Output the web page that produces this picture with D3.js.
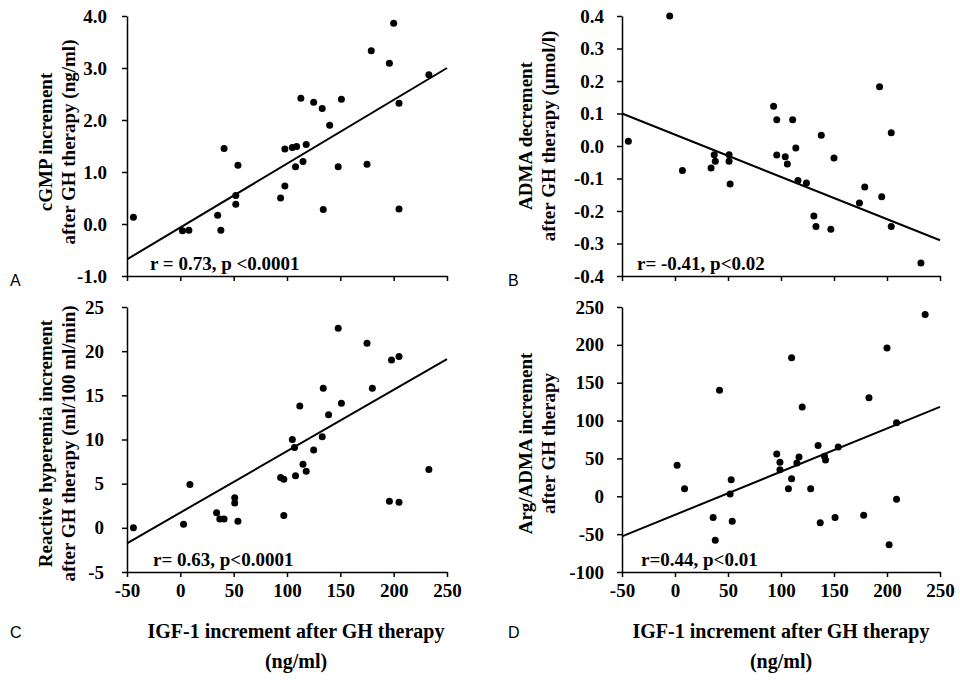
<!DOCTYPE html>
<html>
<head>
<meta charset="utf-8">
<script src="https://cdn.jsdelivr.net/npm/d3@7"></script>
<style>
    body { margin: 0; background: #fff; }
    svg text { font-family: "Liberation Serif", "Times New Roman", serif; font-weight: bold; fill: #000; }
    svg text.letter { font-family: "Liberation Sans", Arial, sans-serif; font-weight: normal; }
    .axis path, .axis line { stroke: #000; stroke-width: 1.5; }
</style>
</head>
<body>
<svg id="chart" width="960" height="683"></svg>
<script>
// ----------------------------------------------------------------------------
// Data
// ----------------------------------------------------------------------------

// Shared x axis: IGF-1 increment after GH therapy (ng/ml)
var xTicks = [-50, 0, 50, 100, 150, 200, 250];

// A: cGMP increment
var igfA = [-44, 2, 8, 35, 38, 41, 52, 52, 54, 94, 98, 98, 105, 109, 108, 113, 115, 118,
            125, 133, 134, 140, 148, 151, 175, 179, 196, 200, 205, 205, 233];
var cgmpA = [0.13, -0.13, -0.12, 0.17, -0.12, 1.45, 0.38, 0.55, 1.13, 0.5, 1.44, 0.73, 1.47, 1.49, 1.1, 2.42, 1.2, 1.53,
             2.34, 2.22, 0.28, 1.9, 1.1, 2.4, 1.15, 3.33, 3.09, 3.86, 2.32, 0.29, 2.87];
var fitA = [[-50, -0.68], [250, 3.0]];
var yTicksA = [-1, 0, 1, 2, 3, 4];

// B: ADMA decrement
var igfB = [-44, -5, 7, 34, 37, 38, 51, 51, 52, 93, 96, 96, 104, 106, 111, 114, 116, 124,
            131, 133, 138, 147, 150, 174, 179, 193, 195, 204, 204, 232];
var admaB = [0.015, 0.4, -0.075, -0.068, -0.027, -0.047, -0.027, -0.047, -0.117, 0.122, 0.081, -0.028, -0.033, -0.055, 0.081, -0.006, -0.106, -0.114,
             -0.215, -0.248, 0.033, -0.256, -0.037, -0.175, -0.126, 0.182, -0.156, 0.041, -0.248, -0.36];
var fitB = [[-50, 0.1], [250, -0.29]];
var yTicksB = [-0.4, -0.3, -0.2, -0.1, 0, 0.1, 0.2, 0.3, 0.4];

// C: reactive hyperemia increment
var igfC = [-44, 3, 9, 34, 37, 41, 51, 51, 54, 94, 97, 97, 105, 107, 108, 112, 115, 118,
            125, 133, 134, 139, 151, 148, 175, 180, 196, 198, 205, 205, 233];
var hyperC = [0, 0.4, 4.9, 1.7, 1.0, 1.0, 3.4, 2.8, 0.75, 5.7, 5.5, 1.4, 10, 9.1, 5.9, 13.8, 7.2, 6.4,
              8.8, 10.3, 15.8, 12.8, 14.1, 22.6, 20.9, 15.8, 3.0, 19.0, 2.9, 19.4, 6.6];
var fitC = [[-50, -1.75], [250, 19.1]];
var yTicksC = [-5, 0, 5, 10, 15, 20, 25];

// D: Arg/ADMA increment
var igfD = [2, 9, 36, 38, 42, 53, 52, 54, 96, 99, 99, 107, 110, 110, 115, 117, 120, 128,
            135, 137, 141, 142, 151, 154, 178, 183, 200, 202, 209, 209, 236];
var argD = [41, 10, -28, -58, 140, 22, 3, -33, 56, 45, 35, 10, 23, 183, 44, 52, 118, 10,
            67, -35, 53, 48, -28, 65, -25, 130, 196, -64, 97, -4, 240];
var fitD = [[-50, -53], [250, 118]];
var yTicksD = [-100, -50, 0, 50, 100, 150, 200, 250];

// Texts
var letters = ["A", "B", "C", "D"];
var stats = ["r = 0.73,  p <0.0001", "r= -0.41, p<0.02", "r= 0.63,  p<0.0001", "r=0.44,  p<0.01"];
var yTitles = [
    ["cGMP increment", "after GH therapy  (ng/ml)"],
    ["ADMA decrement", "after GH therapy (\u00b5mol/l)"],
    ["Reactive hyperemia increment", "after GH therapy  (ml/100 ml/min)"],
    ["Arg/ADMA increment", "after GH therapy"]
];
var xTitle = ["IGF-1 increment after GH therapy", "(ng/ml)"];


// ----------------------------------------------------------------------------
// Drawing
// ----------------------------------------------------------------------------

var svg = d3.select("#chart");

// Replace the unicode minus d3 uses with a plain hyphen, like the original.
function fmt(spec) {
    var f = d3.format(spec);
    return function(d) { return f(d).replace("\u2212", "-"); };
}

// Draws one scatter panel with its regression line.
function drawPanel(p) {
    var x = d3.scaleLinear().domain([-50, 250]).range([p.left, p.left + p.width]);
    var y = d3.scaleLinear().domain(p.yDomain).range([p.bottom, p.top]);

    // X axis (labels only on the lower row)
    svg.append("g")
        .attr("class", "axis")
        .attr("transform", "translate(0," + p.bottom + ")")
        .call(d3.axisBottom(x).tickValues(xTicks).tickSize(5).tickSizeOuter(0)
            .tickPadding(7).tickFormat(p.xLabels ? fmt("d") : ""))
        .selectAll("text").style("font-size", "19px");

    // Y axis
    svg.append("g")
        .attr("class", "axis")
        .attr("transform", "translate(" + p.left + ",0)")
        .call(d3.axisLeft(y).tickValues(p.yTicks).tickSize(5).tickSizeOuter(0)
            .tickPadding(p.yPad).tickFormat(fmt(p.yFormat)))
        .selectAll("text").style("font-size", "19px");

    // Regression line
    svg.append("path")
        .datum(p.fit)
        .attr("fill", "none")
        .attr("stroke", "#000")
        .attr("stroke-width", 2)
        .attr("d", d3.line().x(function(d) { return x(d[0]); }).y(function(d) { return y(d[1]); }));

    // Points
    svg.append("g").selectAll("circle")
        .data(p.xs.map(function(v, i) { return [v, p.ys[i]]; }))
        .enter().append("circle")
        .attr("cx", function(d) { return x(d[0]); })
        .attr("cy", function(d) { return y(d[1]); })
        .attr("r", 3.5)
        .attr("fill", "#000");

    // Correlation text
    svg.append("text")
        .attr("x", p.left + p.statDx)
        .attr("y", p.bottom - 6)
        .style("font-size", "19px")
        .text(p.stat);

    // Rotated y title, two lines
    var cy = (p.top + p.bottom) / 2 + p.titleDy;
    p.yTitle.forEach(function(t, i) {
        svg.append("text")
            .attr("transform", "translate(" + (p.titleX + i * 23) + "," + cy + ") rotate(-90)")
            .attr("text-anchor", "middle")
            .style("font-size", "19px")
            .text(t);
    });

    // Panel letter
    svg.append("text")
        .attr("class", "letter")
        .attr("x", p.letterX)
        .attr("y", p.letterY)
        .style("font-size", "16px")
        .text(p.letter);

    // Shared x title under the lower panels
    if (p.xLabels) {
        xTitle.forEach(function(t, i) {
            svg.append("text")
                .attr("x", p.xTitleX)
                .attr("y", 638 + i * 30)
                .attr("text-anchor", "middle")
                .style("font-size", "20px")
                .text(t);
        });
    }
}

var panels = [
    { left: 127, width: 320, top: 16, bottom: 276, yDomain: [-1, 4], yTicks: yTicksA, yFormat: ".1f", yPad: 15,
      xs: igfA, ys: cgmpA, fit: fitA, stat: stats[0], statDx: 23, yTitle: yTitles[0], titleX: 52, titleDy: -4,
      letter: letters[0], letterX: 10, letterY: 286, xLabels: false },
    { left: 622, width: 318, top: 16, bottom: 276, yDomain: [-0.4, 0.4], yTicks: yTicksB, yFormat: ".1f", yPad: 13,
      xs: igfB, ys: admaB, fit: fitB, stat: stats[1], statDx: 15, yTitle: yTitles[1], titleX: 532, titleDy: -10,
      letter: letters[1], letterX: 508, letterY: 286, xLabels: false },
    { left: 127, width: 320, top: 307, bottom: 572, yDomain: [-5, 25], yTicks: yTicksC, yFormat: "d", yPad: 18,
      xs: igfC, ys: hyperC, fit: fitC, stat: stats[2], statDx: 26, yTitle: yTitles[2], titleX: 52, titleDy: 4,
      letter: letters[2], letterX: 10, letterY: 638, xLabels: true, xTitleX: 296 },
    { left: 622, width: 318, top: 307, bottom: 572, yDomain: [-100, 250], yTicks: yTicksD, yFormat: "d", yPad: 13,
      xs: igfD, ys: argD, fit: fitD, stat: stats[3], statDx: 19, yTitle: yTitles[3], titleX: 532, titleDy: 4,
      letter: letters[3], letterX: 508, letterY: 638, xLabels: true, xTitleX: 781 }
];

panels.forEach(drawPanel);
</script>
</body>
</html>
